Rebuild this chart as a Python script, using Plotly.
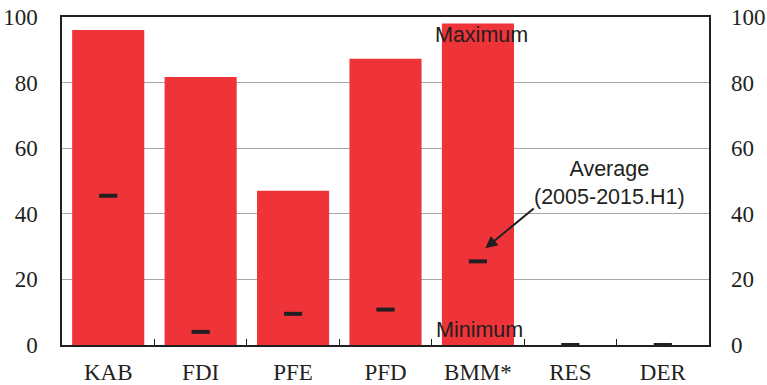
import plotly.graph_objects as go

categories = ["KAB", "FDI", "PFE", "PFD", "BMM*", "RES", "DER"]
maximum = [96, 81.7, 47, 87.3, 98, 0, 0]
minimum = [0, 0, 0, 0, 0, 0, 0]
average = [45.5, 4, 9.5, 10.8, 25.5, 0, 0]
y_ticks = [0, 20, 40, 60, 80, 100]

RED = "#ee3339"
DARK = "#231f20"
SERIF = "Liberation Serif, Times New Roman, serif"
SANS = "Liberation Sans, Arial, sans-serif"

fig = go.Figure()
fig.add_trace(go.Bar(
    x=categories,
    y=[mx - mn for mx, mn in zip(maximum, minimum)],
    base=minimum,
    marker=dict(color=RED, line=dict(width=0)),
    showlegend=False,
))
fig.add_trace(go.Scatter(
    x=categories, y=average, mode="markers",
    marker=dict(symbol="line-ew", size=13, line=dict(width=4, color=DARK)),
    cliponaxis=False, showlegend=False,
))
# invisible trace on right axis
fig.add_trace(go.Scatter(x=categories, y=average, yaxis="y2", mode="markers",
                         marker=dict(opacity=0), showlegend=False, hoverinfo="skip"))

fig.update_layout(
    width=767, height=385,
    margin=dict(l=62, r=58, t=17, b=40),
    plot_bgcolor="white", paper_bgcolor="white",
    bargap=0.22,
    xaxis=dict(
        type="category", tickson="boundaries", ticks="inside", ticklen=6,
        tickcolor=DARK, tickwidth=1, showline=True, linecolor=DARK, linewidth=1.5,
        mirror=True, showgrid=False, automargin=False, ticklabelstandoff=6,
        tickfont=dict(family=SERIF, size=23, color=DARK),
    ),
    yaxis=dict(
        range=[0, 100], tickvals=y_ticks, showline=True, linecolor=DARK, linewidth=1.5,
        mirror=True, showgrid=True, gridcolor="#a6a6a6", gridwidth=1, zeroline=False,
        ticks="", ticklabelstandoff=18, automargin=False,
        tickfont=dict(family=SERIF, size=23, color=DARK),
    ),
    yaxis2=dict(
        range=[0, 100], tickvals=y_ticks, overlaying="y", side="right",
        showgrid=False, zeroline=False, showline=False, ticks="", ticklabelstandoff=21,
        automargin=False,
        tickfont=dict(family=SERIF, size=23, color=DARK),
    ),
    annotations=[
        dict(x=4.04, y=94.5, xref="x", yref="y", text="Maximum", showarrow=False,
             font=dict(family=SANS, size=21.5, color=DARK)),
        dict(x=4.02, y=4.5, xref="x", yref="y", text="Minimum", showarrow=False,
             font=dict(family=SANS, size=21.5, color=DARK)),
        dict(x=5.42, y=49.5, xref="x", yref="y", text="Average<br>(2005-2015.H1)",
             showarrow=False, font=dict(family=SANS, size=21.5, color=DARK)),
        dict(x=4.08, y=29.5, xref="x", yref="y", ax=4.62, ay=42, axref="x", ayref="y",
             text="", showarrow=True, arrowhead=2, arrowsize=1.2, arrowwidth=2,
             arrowcolor=DARK),
    ],
)

fig.write_html("out.html", config={"displayModeBar": False},
               post_script="document.body.style.margin='0';")
